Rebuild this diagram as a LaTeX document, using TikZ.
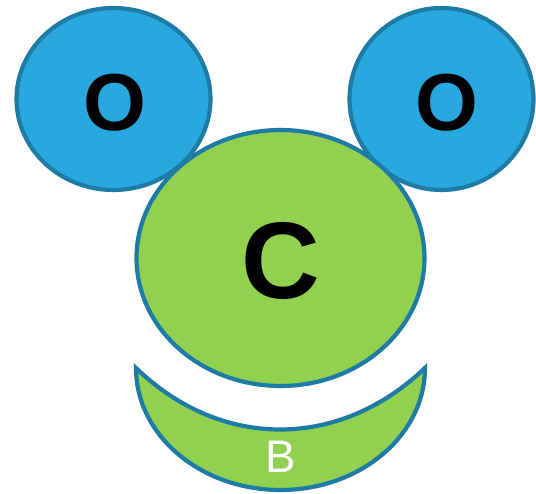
\documentclass[tikz,border=0pt]{standalone}
\usepackage{fontspec}
\setmainfont{Liberation Sans}
\usetikzlibrary{shapes.geometric}
\definecolor{atomblue}{HTML}{29A7DF}
\definecolor{atomgreen}{HTML}{92D050}
\definecolor{rimc}{HTML}{1E7BA6}
\tikzset{
  atom/.style={ellipse, draw=rimc, line width=2.4pt, inner sep=0pt},
  oxy/.style={atom, fill=atomblue, minimum width=3.88cm, minimum height=3.64cm},
  carb/.style={atom, fill=atomgreen, minimum width=5.76cm, minimum height=5.12cm},
  bowl/.style={draw=rimc, fill=atomgreen, line width=2.4pt, line join=miter},
  otext/.style={font=\fontsize{46}{46}\bfseries\selectfont},
  ctext/.style={font=\fontsize{62}{62}\bfseries\selectfont},
  blabel/.style={text=white, font=\fontsize{26}{26}\selectfont, inner sep=0pt}}

\begin{document}
\begin{tikzpicture}[x=0.02cm, y=0.02cm]
  \useasboundingbox (0,0) rectangle (536,493);
  % ---- the two oxygen atoms, behind the carbon
  \node[oxy] (Oleft) at (113.5,394) {};
  \node[oxy, minimum width=3.68cm] (Oright) at (441.5,394) {};
  \node[otext] (Oltext) at (115,390.5) {O};
  \node[otext] (Ortext) at (447,390.5) {O};
  % ---- the carbon atom
  \node[carb] (C) at (280.5,235) {};
  \node[ctext] (Ctext) at (281,232) {C};
  % ---- the bowl underneath
  \draw[bowl] (136,125) arc[start angle=180, end angle=360,
      x radius=2.89cm, y radius=2.44cm]
    .. controls (339,43) and (221,43) .. cycle;
  \node[blabel] (B) at (280.5,36) {B};
\end{tikzpicture}
\end{document}
